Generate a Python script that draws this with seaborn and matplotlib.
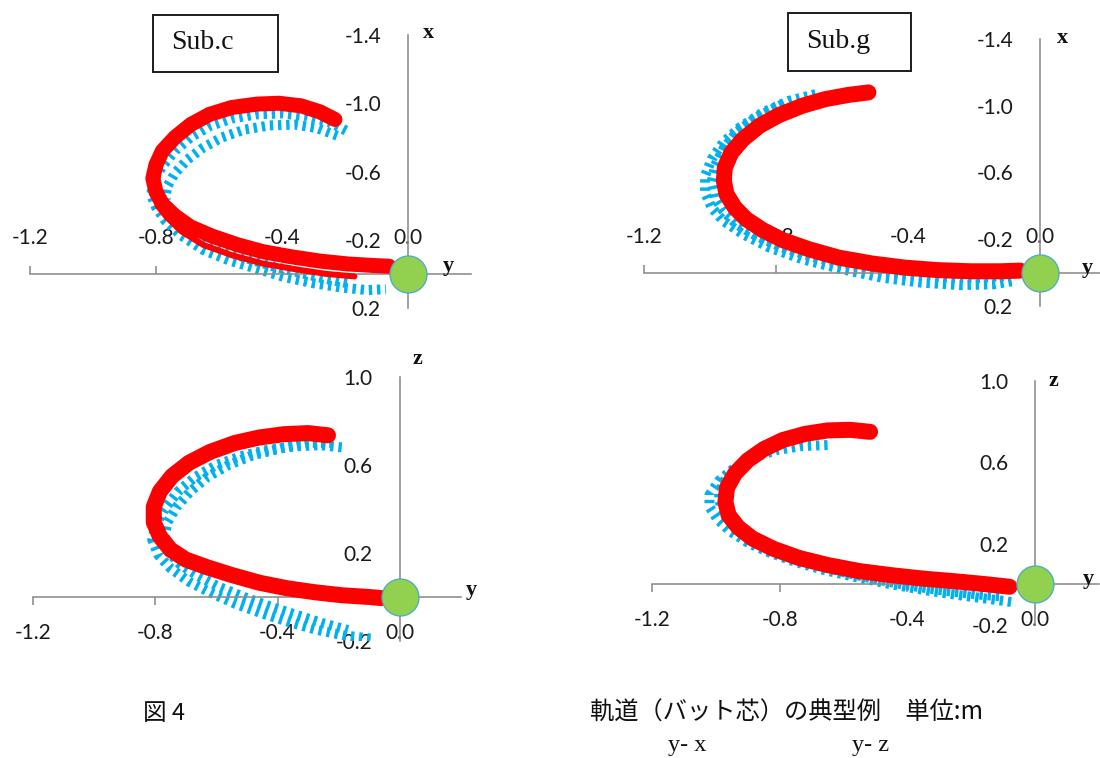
import matplotlib
matplotlib.use("Agg")
import matplotlib.pyplot as plt
from matplotlib.patches import Rectangle
import seaborn as sns

sns.set_style("white")
plt.rcParams["font.family"] = ["Lato", "DejaVu Sans"]

W, H = 1100, 758

# ---- swing trajectories of the bat sweet spot (metres) ----
# Sub.c, y-x plane
c_yx_red_y = [-0.232, -0.28, -0.34, -0.41, -0.48, -0.56, -0.63, -0.69, -0.74, -0.78, -0.80, -0.81,
              -0.80, -0.78, -0.74, -0.69, -0.62, -0.54, -0.46, -0.37, -0.28, -0.19, -0.10, -0.06]
c_yx_red_x = [-0.905, -0.95, -0.985, -1.0, -0.995, -0.975, -0.935, -0.875, -0.80, -0.72, -0.64, -0.56,
              -0.48, -0.41, -0.34, -0.275, -0.22, -0.17, -0.13, -0.10, -0.075, -0.058, -0.048, -0.045]
c_yx_red2_y = [-0.795, -0.765, -0.72, -0.65, -0.56, -0.46, -0.36, -0.26, -0.17]
c_yx_red2_x = [-0.40, -0.33, -0.25, -0.17, -0.11, -0.06, -0.028, 0.0, 0.015]
c_yx_blue_a_y = [-0.197, -0.25, -0.32, -0.40, -0.48, -0.56, -0.63, -0.69, -0.74, -0.78, -0.81, -0.815,
                 -0.80, -0.77, -0.72, -0.65, -0.57, -0.48, -0.39, -0.30, -0.21, -0.13, -0.07]
c_yx_blue_a_x = [-0.84, -0.89, -0.925, -0.94, -0.935, -0.91, -0.865, -0.80, -0.72, -0.63, -0.54, -0.46,
                 -0.39, -0.31, -0.225, -0.14, -0.08, -0.03, 0.02, 0.055, 0.08, 0.095, 0.09]
c_yx_blue_b_y = [-0.225, -0.29, -0.36, -0.44, -0.52, -0.59, -0.65, -0.70, -0.74, -0.765, -0.77,
                 -0.755, -0.72, -0.67, -0.60, -0.52, -0.43, -0.34, -0.26, -0.18]
c_yx_blue_b_x = [-0.81, -0.855, -0.875, -0.87, -0.845, -0.80, -0.74, -0.67, -0.59, -0.51, -0.44,
                 -0.37, -0.30, -0.225, -0.155, -0.095, -0.045, -0.005, 0.03, 0.06]

# Sub.g, y-x plane
g_yx_red_y = [-0.52, -0.58, -0.65, -0.72, -0.79, -0.85, -0.90, -0.935, -0.955, -0.958, -0.95, -0.925,
              -0.89, -0.84, -0.78, -0.70, -0.61, -0.51, -0.41, -0.31, -0.21, -0.12, -0.06]
g_yx_red_x = [-1.08, -1.065, -1.04, -1.0, -0.945, -0.88, -0.80, -0.72, -0.63, -0.55, -0.47, -0.39,
              -0.32, -0.255, -0.195, -0.14, -0.09, -0.055, -0.03, -0.015, -0.008, -0.008, -0.012]
g_yx_blue_a_y = [-0.68, -0.76, -0.84, -0.91, -0.96, -0.995, -1.015, -1.015, -0.995, -0.96, -0.90,
                 -0.82, -0.72, -0.60, -0.48, -0.36, -0.24, -0.14, -0.08]
g_yx_blue_a_x = [-1.07, -1.03, -0.96, -0.87, -0.78, -0.68, -0.58, -0.48, -0.39, -0.31, -0.23,
                 -0.15, -0.08, -0.02, 0.03, 0.06, 0.075, 0.07, 0.05]
g_yx_blue_b_y = [-0.78, -0.86, -0.92, -0.96, -0.985, -0.995, -0.985, -0.96, -0.92, -0.86, -0.78,
                 -0.68, -0.56, -0.44, -0.32, -0.20, -0.11]
g_yx_blue_b_x = [-1.01, -0.93, -0.84, -0.74, -0.64, -0.54, -0.45, -0.37, -0.29, -0.22, -0.15,
                 -0.09, -0.04, 0.0, 0.025, 0.035, 0.02]

# Sub.c, y-z plane
c_yz_red_y = [-0.235, -0.30, -0.38, -0.46, -0.54, -0.62, -0.69, -0.745, -0.785, -0.805, -0.805, -0.785,
              -0.75, -0.70, -0.63, -0.55, -0.46, -0.37, -0.28, -0.19, -0.10, -0.06]
c_yz_red_z = [0.735, 0.745, 0.74, 0.725, 0.70, 0.66, 0.61, 0.55, 0.48, 0.41, 0.34, 0.275,
              0.215, 0.17, 0.135, 0.10, 0.065, 0.04, 0.022, 0.008, 0.0, -0.005]
c_yz_blue_a_y = [-0.19, -0.26, -0.34, -0.43, -0.52, -0.60, -0.67, -0.725, -0.77, -0.80, -0.81,
                 -0.79, -0.75, -0.69, -0.62, -0.54, -0.45, -0.36, -0.27, -0.18, -0.09]
c_yz_blue_a_z = [0.68, 0.69, 0.685, 0.67, 0.64, 0.60, 0.545, 0.48, 0.40, 0.32, 0.26,
                 0.19, 0.13, 0.07, 0.02, -0.03, -0.075, -0.115, -0.15, -0.175, -0.19]
c_yz_blue_b_y = [-0.22, -0.30, -0.39, -0.48, -0.56, -0.63, -0.685, -0.73, -0.76, -0.77, -0.76,
                 -0.72, -0.66, -0.59, -0.51, -0.42, -0.33, -0.25, -0.17]
c_yz_blue_b_z = [0.70, 0.70, 0.675, 0.645, 0.60, 0.545, 0.48, 0.41, 0.34, 0.27, 0.21,
                 0.15, 0.095, 0.045, 0.0, -0.045, -0.085, -0.12, -0.15]

# Sub.g, y-z plane
g_yz_red_y = [-0.517, -0.58, -0.65, -0.72, -0.79, -0.85, -0.90, -0.94, -0.965, -0.97, -0.96, -0.93,
              -0.885, -0.82, -0.74, -0.65, -0.55, -0.45, -0.35, -0.25, -0.15, -0.08]
g_yz_red_z = [0.75, 0.76, 0.757, 0.74, 0.71, 0.665, 0.61, 0.545, 0.475, 0.405, 0.34, 0.28,
              0.225, 0.175, 0.13, 0.095, 0.065, 0.045, 0.028, 0.015, 0.0, -0.012]
g_yz_blue_a_y = [-0.65, -0.73, -0.81, -0.88, -0.94, -0.99, -1.02, -1.02, -0.995, -0.955, -0.90,
                 -0.83, -0.75, -0.66, -0.56, -0.45, -0.34, -0.23, -0.13, -0.06]
g_yz_blue_a_z = [0.685, 0.68, 0.66, 0.625, 0.575, 0.51, 0.44, 0.38, 0.32, 0.26, 0.205,
                 0.155, 0.11, 0.07, 0.035, 0.0, -0.03, -0.055, -0.075, -0.09]
g_yz_blue_b_y = [-0.97, -0.99, -0.985, -0.96, -0.92, -0.86, -0.79, -0.70, -0.60, -0.50, -0.40,
                 -0.29, -0.18, -0.10]
g_yz_blue_b_z = [0.52, 0.45, 0.38, 0.31, 0.25, 0.195, 0.145, 0.10, 0.06, 0.025, -0.005,
                 -0.03, -0.05, -0.06]

# ball position
ball_y = [0.0]
ball_v = [0.0]

yx_ticks = [-1.4, -1.0, -0.6, -0.2, 0.2]
yz_ticks = [1.0, 0.6, 0.2, -0.2]
y_ticks = [-1.2, -0.8, -0.4, 0.0]

RED = "#ff0000"
BLUE = "#00b0f0"
GRID = "#8c8c8c"
LABEL_FONT = ["Liberation Serif", "DejaVu Serif"]

fig = plt.figure(figsize=(W / 100, H / 100), dpi=100)


def add_axes(left, top, right, bottom):
    return fig.add_axes([left / W, 1 - bottom / H, (right - left) / W, (bottom - top) / H])


def px(v):
    return v * 72 / 100


def setup(ax, vticks, vlim, inverted):
    ax.set_xlim(-1.2, 0.2)
    ax.set_ylim(*vlim)
    for s in ax.spines.values():
        s.set_visible(False)
    ax.spines["left"].set_visible(True)
    ax.spines["left"].set_position(("data", 0))
    ax.spines["left"].set_color(GRID)
    ax.spines["left"].set_linewidth(px(1.6))
    hs = "top" if inverted else "bottom"
    ax.spines[hs].set_visible(True)
    ax.spines[hs].set_position(("data", 0))
    ax.spines[hs].set_color(GRID)
    ax.spines[hs].set_linewidth(px(1.6))
    ax.xaxis.set_ticks_position(hs)
    ax.set_xticks(y_ticks)
    ax.set_xticklabels([f"{t:.1f}" for t in y_ticks])
    ax.set_yticks(vticks)
    ax.set_yticklabels([f"{t:.1f}" for t in vticks])
    ax.tick_params(axis="both", direction="out", length=px(8), width=px(1.6), color=GRID,
                   labelsize=15, labelcolor="#1a1a1a")
    ax.tick_params(axis="x", pad=px(18))
    ax.tick_params(axis="y", pad=px(19))
    ax.set_xlabel("")
    ax.set_ylabel("")
    ax.patch.set_alpha(0)


def dots(ax, xs, ys):
    # short cross-strokes along the path, like densely packed markers
    lw = 10
    sns.lineplot(x=xs, y=ys, ax=ax, sort=False, estimator=None, color=BLUE,
                 linewidth=px(lw), linestyle=(0, (3.4 / lw, 4.8 / lw)), dash_capstyle="butt",
                 zorder=2)


def band(ax, xs, ys, width=16):
    sns.lineplot(x=xs, y=ys, ax=ax, sort=False, estimator=None, color=RED,
                 linewidth=px(width), solid_capstyle="round", solid_joinstyle="round", zorder=3)


def ball(ax):
    sns.scatterplot(x=ball_y, y=ball_v, ax=ax, s=px(37) ** 2, color="#92d050",
                    edgecolor="#4bacc6", linewidth=px(1.3), zorder=5, clip_on=False)


def axis_name(ax, text, xy, off):
    ax.annotate(text, xy=xy, xycoords="data", xytext=off, textcoords="offset pixels",
                ha="center", va="center", fontsize=16, fontweight="bold",
                family=LABEL_FONT, color="#111111", annotation_clip=False)


# top-left: Sub.c, y-x
ax1 = add_axes(30, 35, 471, 308)
dots(ax1, c_yx_blue_a_y, c_yx_blue_a_x)
dots(ax1, c_yx_blue_b_y, c_yx_blue_b_x)
band(ax1, c_yx_red_y, c_yx_red_x, width=15)
band(ax1, c_yx_red2_y, c_yx_red2_x, width=6)
ball(ax1)
setup(ax1, yx_ticks, (0.2, -1.4), True)
axis_name(ax1, "x", (0, -1.4), (20, 2))
axis_name(ax1, "y", (0, 0), (40, 8))

# top-right: Sub.g, y-x
ax2 = add_axes(644, 39, 1106, 306)
dots(ax2, g_yx_blue_a_y, g_yx_blue_a_x)
dots(ax2, g_yx_blue_b_y, g_yx_blue_b_x)
band(ax2, g_yx_red_y, g_yx_red_x)
ball(ax2)
setup(ax2, yx_ticks, (0.2, -1.4), True)
axis_name(ax2, "x", (0, -1.4), (22, 1))
axis_name(ax2, "y", (0, 0), (47, 5))

# bottom-left: Sub.c, y-z
ax3 = add_axes(33, 377, 461, 641)
dots(ax3, c_yz_blue_a_y, c_yz_blue_a_z)
dots(ax3, c_yz_blue_b_y, c_yz_blue_b_z)
band(ax3, c_yz_red_y, c_yz_red_z)
ball(ax3)
setup(ax3, yz_ticks, (-0.2, 1.0), False)
axis_name(ax3, "z", (0, 1.0), (18, 18))
axis_name(ax3, "y", (0, 0), (72, 7))

# bottom-right: Sub.g, y-z
ax4 = add_axes(652, 381, 1099, 625)
dots(ax4, g_yz_blue_a_y, g_yz_blue_a_z)
dots(ax4, g_yz_blue_b_y, g_yz_blue_b_z)
band(ax4, g_yz_red_y, g_yz_red_z)
ball(ax4)
setup(ax4, yz_ticks, (-0.2, 1.0), False)
axis_name(ax4, "z", (0, 1.0), (18, 0))
axis_name(ax4, "y", (0, 0), (53, 5))

# subject boxes
for (l, t, r, b, label, tx) in [(153, 15, 278, 72, "Sub.c", 171), (788, 13, 911, 71, "Sub.g", 806)]:
    fig.patches.append(Rectangle((l / W, 1 - b / H), (r - l) / W, (b - t) / H,
                                 transform=fig.transFigure, facecolor="white",
                                 edgecolor="#222222", linewidth=px(2)))
    fig.text(tx / W, 1 - ((t + b) / 2 - 1) / H, label, ha="left", va="center",
             fontsize=20, family=LABEL_FONT, color="#111111")

# caption
CJK = ["Noto Sans CJK JP", "DejaVu Sans"]
fig.text(143 / W, 1 - 713 / H, "図 4", ha="left", va="center", fontsize=17, family=CJK, color="#111111")
fig.text(590 / W, 1 - 713 / H, "軌道（バット芯）の典型例　単位:m", ha="left", va="center",
         fontsize=17.5, family=CJK, color="#111111")
fig.text(668 / W, 1 - 746 / H, "y- x", ha="left", va="center", fontsize=17.5, family=LABEL_FONT, color="#111111")
fig.text(852 / W, 1 - 746 / H, "y- z", ha="left", va="center", fontsize=17.5, family=LABEL_FONT, color="#111111")

fig.savefig("out.png", dpi=100)
